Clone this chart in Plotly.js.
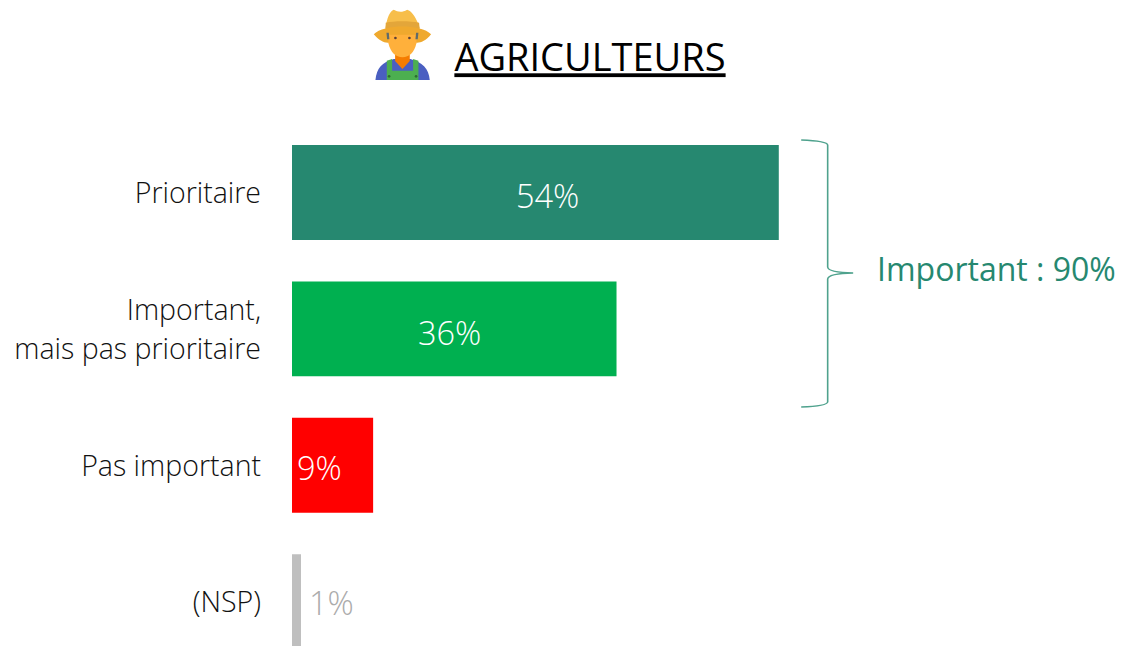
<!DOCTYPE html>
<html><head><meta charset="utf-8">
<script src="https://cdn.plot.ly/plotly-3.0.1.min.js"></script>
<style>html,body{margin:0;padding:0;background:#fff}#c{width:1122px;height:646px}</style>
</head><body><div id="c"></div>
<script>
const categories = ['Prioritaire', 'Important,<br>mais pas prioritaire', 'Pas important', '(NSP)'];
const values = [54, 36, 9, 1];
const barColors = ['#268870', '#00B050', '#FF0000', '#BFBFBF'];
const valueLabels = ['54%', '36%', '9%', '1%'];
const labelColors = ['#FFFFFF', '#FFFFFF', '#FFFFFF', '#ABABAB'];
const labelCenterPx = [547.5, 449, 319, 331];
const labelMiddlePx = [195, 332, 467, 602];
const titleText = 'AGRICULTEURS';
const totalText = 'Important : 90%';

const W = 1122, H = 646, L = 291.5, PXPER = 9.02, TOPC = 192.5, PITCH = 136.4;
const FONT = '"Open Sans", "Noto Sans", sans-serif';
const px = x => (x - L) / (W - L);
const py = y => 1 - y / H;
const P = (x, y) => px(x).toFixed(5) + ',' + py(y).toFixed(5);

const bracket = 'M' + P(801,140) + ' Q' + P(827,141) + ' ' + P(827.5,145) + ' L' + P(827.5,267) +
  ' Q' + P(828,272.5) + ' ' + P(853,273) + ' Q' + P(828,273.5) + ' ' + P(827.5,279) + ' L' + P(827.5,402) +
  ' Q' + P(827,406) + ' ' + P(801,407);

const farmer = `<svg xmlns="http://www.w3.org/2000/svg" width="60" height="72" viewBox="36 27 180 216">
<path d="M45 240 C48 205 65 187 100 177 L150 177 C185 187 205 205 208 240 Z" fill="#4A5FC1"/>
<path d="M79 240 L79 182 L95 177 L95 212 L158 212 L158 177 L174 182 L174 240 Z" fill="#4CAF50"/>
<path d="M104 160 L148 160 L148 183 L126 207 L104 183 Z" fill="#F57C00"/>
<circle cx="86" cy="229" r="4" fill="#2E6B32"/><circle cx="167" cy="229" r="4" fill="#2E6B32"/>
<path d="M75 85 C80 52 88 34 100 29 C112 36 125 38 140 29 C155 32 170 58 178 85 Z" fill="#F7BE4A"/>
<path d="M76 68 C100 62 150 62 176 68 L178 90 L75 90 Z" fill="#E3A63A"/>
<path d="M40 103 C70 72 182 72 212 103 C195 124 178 130 166 128 L166 108 L86 108 L86 128 C72 130 56 122 40 103 Z" fill="#EFA92E"/>
<path d="M84 104 L168 104 L168 130 C162 158 146 172 126 172 C106 172 90 158 84 130 Z" fill="#FFB03B"/>
<path d="M78 98 L85 98 L87 118 L80 118 Z M174 98 L167 98 L165 118 L172 118 Z" fill="#5F6B6B"/>
<circle cx="105" cy="114" r="4" fill="#5D4037"/><circle cx="147" cy="114" r="4" fill="#5D4037"/>
</svg>`;

const trace = {
  type: 'bar', orientation: 'h',
  y: categories.map((c, i) => i), x: values,
  width: 0.696,
  marker: { color: barColors, line: { width: 0 } },
  hoverinfo: 'skip'
};

const annotations = values.map((v, i) => ({
  x: (labelCenterPx[i] - L) / PXPER, xref: 'x',
  y: (labelMiddlePx[i] - TOPC) / PITCH, yref: 'y',
  text: valueLabels[i], showarrow: false, xanchor: 'center', yanchor: 'middle',
  font: { family: FONT, size: 32.5, color: labelColors[i], weight: 300 }
}));
annotations.push({
  x: px(875), xref: 'paper', y: py(268), yref: 'paper',
  text: totalText, showarrow: false, xanchor: 'left', yanchor: 'middle',
  font: { family: FONT, size: 32, color: '#268870', weight: 400 }
});

const layout = {
  width: W, height: H, paper_bgcolor: '#fff', plot_bgcolor: '#fff',
  margin: { l: L, r: 0, t: 0, b: 0, pad: 0 }, showlegend: false,
  title: { text: titleText, x: 590 / W, xanchor: 'center', xref: 'container', y: 1 - 58 / H, yanchor: 'middle', yref: 'container',
    font: { family: FONT, size: 38, color: '#000', lineposition: 'under', weight: 400 } },
  xaxis: { range: [0, (W - L) / PXPER], visible: false, fixedrange: true },
  yaxis: {
    range: [(H - TOPC) / PITCH, -TOPC / PITCH], tickmode: 'array',
    tickvals: categories.map((c, i) => i),
    ticktext: categories.map(c => '<span style="font-size:28.5px">' + c + '</span>'),
    tickfont: { family: FONT, size: 30, color: '#111', weight: 300 },
    ticklen: 0, ticks: '', showline: false, showgrid: false, zeroline: false,
    ticklabelstandoff: 30, fixedrange: true, automargin: false
  },
  annotations,
  shapes: [{ type: 'path', xref: 'paper', yref: 'paper', path: bracket, line: { color: '#4FA28D', width: 1.6 } }],
  images: [{ source: 'data:image/svg+xml;charset=utf-8,' + encodeURIComponent(farmer), xref: 'paper', yref: 'paper',
    x: px(372), y: py(9), sizex: 60 / (W - L), sizey: 72 / H, xanchor: 'left', yanchor: 'top', sizing: 'stretch', layer: 'above' }]
};
Plotly.newPlot('c', [trace], layout, { displayModeBar: false, staticPlot: true });
</script></body></html>
